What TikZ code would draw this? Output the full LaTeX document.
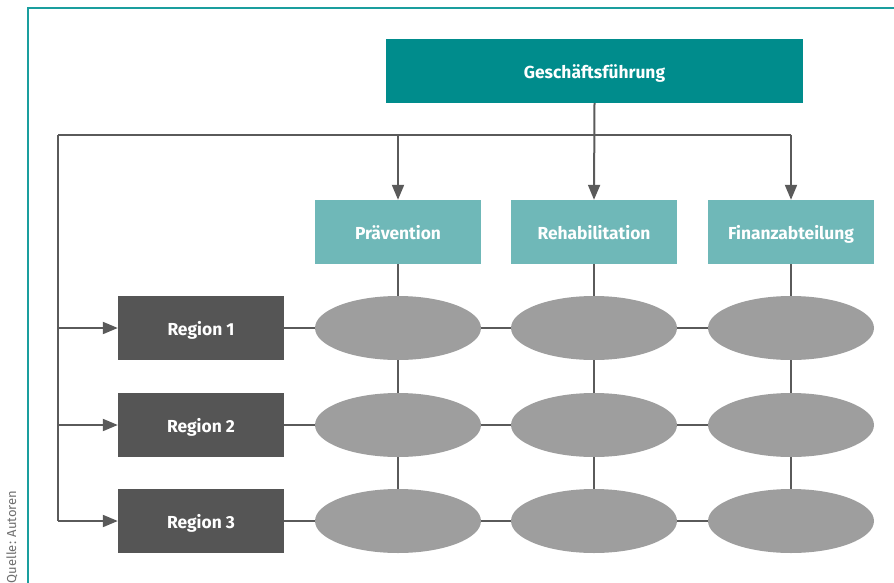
\documentclass[tikz,border=0pt]{standalone}
\usepackage{fontspec}
\setmainfont{Fira Sans}
\usetikzlibrary{shapes.geometric,arrows.meta}
\definecolor{teal1}{HTML}{008C8C}
\definecolor{teal2}{HTML}{6FB8B8}
\definecolor{frame}{HTML}{1A9E9E}
\definecolor{dark}{HTML}{555555}
\definecolor{ell}{HTML}{9E9E9E}
\definecolor{lineg}{HTML}{5A5A5A}
\definecolor{srcgray}{HTML}{6E6E6E}
\begin{document}
\begin{tikzpicture}[x=1pt,y=-1pt,
  box/.style={minimum width=166pt,minimum height=64pt,inner sep=0pt,text height=15pt,text depth=0pt,font=\bfseries\fontsize{17.4}{20}\selectfont,text=white},
  topbox/.style={box,fill=teal1,minimum width=417pt},
  deptbox/.style={box,fill=teal2},
  regbox/.style={box,fill=dark},
  cell/.style={ellipse,fill=ell,minimum width=166pt,minimum height=64pt,inner sep=0pt},
  conn/.style={draw=lineg,line width=2pt},
  arr/.style={conn,-{Triangle[length=15pt,width=12pt]}}]
\useasboundingbox (0,0) rectangle (894,583);
\draw[frame,line width=2pt] (28,583) -- (28,8) -- (894,8);
\node[rotate=90,font=\fontsize{13}{15}\selectfont,text=srcgray,anchor=center] (src) at (12,537) {Quelle: Autoren};
% nodes
\node[topbox] (gf) at (594.5,71) {Geschäftsführung};
\node[deptbox] (p) at (398,232) {Prävention};
\node[deptbox] (r) at (594,232) {Rehabilitation};
\node[deptbox] (f) at (791,232) {Finanzabteilung};
\node[regbox] (r1) at (201,328) {Region 1};
\node[regbox] (r2) at (201,425) {Region 2};
\node[regbox] (r3) at (201,521) {Region 3};
\foreach \c/\x in {a/398,b/594,c/791}{
  \node[cell] (\c1) at (\x,328) {};
  \node[cell] (\c2) at (\x,425) {};
  \node[cell] (\c3) at (\x,521) {};
}
\coordinate (hl) at (58,135);
\coordinate (hr) at (791,135);
\draw[conn] (p.south) -- (a1.north);
\draw[conn] (a1.south) -- (a2.north);
\draw[conn] (a2.south) -- (a3.north);
\draw[conn] (r.south) -- (b1.north);
\draw[conn] (b1.south) -- (b2.north);
\draw[conn] (b2.south) -- (b3.north);
\draw[conn] (f.south) -- (c1.north);
\draw[conn] (c1.south) -- (c2.north);
\draw[conn] (c2.south) -- (c3.north);
\foreach \i in {1,2,3}{
  \draw[conn] (r\i.east) -- (a\i.west);
  \draw[conn] (a\i.east) -- (b\i.west);
  \draw[conn] (b\i.east) -- (c\i.west);
}
\draw[conn] (hl) -- (hr);
\draw[arr] (gf.south) -- (r.north);
\draw[arr] (hl -| p.north) -- (p.north);
\draw[arr] (hr) -- (f.north);
\draw[conn] (hl) -- (hl |- r3.west);
\draw[arr] (hl |- r1.west) -- (r1.west);
\draw[arr] (hl |- r2.west) -- (r2.west);
\draw[arr] (hl |- r3.west) -- (r3.west);
\end{tikzpicture}
\end{document}
